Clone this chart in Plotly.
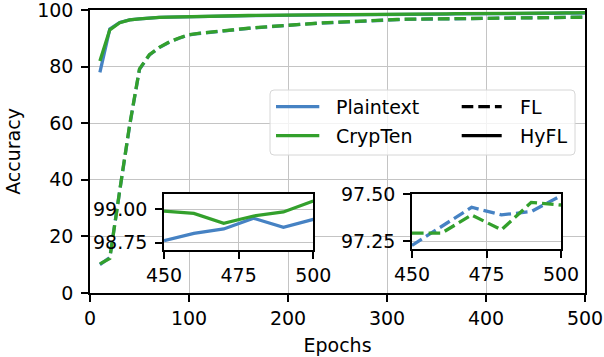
import plotly.graph_objects as go

# ---------------- data ----------------
epochs = list(range(10, 501, 10))

hyfl_plaintext = [78.0, 93.3, 95.6, 96.5, 96.9, 97.2, 97.4, 97.5, 97.6, 97.7,
                  97.75, 97.8, 97.85, 97.9, 97.95, 98.0, 98.0, 98.05, 98.1, 98.1,
                  98.15, 98.2, 98.2, 98.25, 98.3, 98.3, 98.35, 98.35, 98.4, 98.4,
                  98.45, 98.45, 98.5, 98.5, 98.55, 98.55, 98.6, 98.6, 98.62, 98.65,
                  98.67, 98.7, 98.72, 98.74, 98.765, 98.82, 98.853, 98.933, 98.865, 98.925]

hyfl_crypten = [82.0, 93.0, 95.5, 96.5, 96.9, 97.2, 97.4, 97.5, 97.6, 97.7,
                97.8, 97.85, 97.9, 97.95, 98.0, 98.05, 98.1, 98.1, 98.15, 98.2,
                98.2, 98.25, 98.3, 98.3, 98.35, 98.4, 98.4, 98.45, 98.5, 98.5,
                98.55, 98.55, 98.6, 98.6, 98.65, 98.65, 98.7, 98.7, 98.75, 98.75,
                98.8, 98.8, 98.85, 98.9, 98.987, 98.97, 98.895, 98.95, 98.98, 99.062]

fl_plaintext = [10.0, 12.5, 36.0, 59.0, 79.0, 84.1, 86.7, 88.6, 90.0, 91.2,
                91.7, 92.1, 92.5, 92.9, 93.2, 93.5, 93.8, 94.1, 94.4, 94.7,
                94.9, 95.1, 95.3, 95.5, 95.7, 95.85, 96.0, 96.2, 96.4, 96.55,
                96.6, 96.7, 96.75, 96.8, 96.85, 96.9, 96.95, 97.0, 97.05, 97.1,
                97.12, 97.15, 97.18, 97.2, 97.227, 97.328, 97.431, 97.39, 97.408, 97.493]

fl_crypten = [10.3, 12.2, 36.2, 59.3, 79.2, 84.2, 86.8, 88.7, 90.1, 91.25,
              91.75, 92.15, 92.55, 92.95, 93.25, 93.55, 93.85, 94.15, 94.45, 94.75,
              94.95, 95.15, 95.35, 95.55, 95.75, 95.9, 96.05, 96.25, 96.45, 96.6,
              96.65, 96.75, 96.8, 96.85, 96.9, 96.95, 97.0, 97.05, 97.1, 97.15,
              97.18, 97.2, 97.23, 97.26, 97.293, 97.293, 97.39, 97.31, 97.457, 97.443]

x_ticks = [0, 100, 200, 300, 400, 500]
y_ticks = [0, 20, 40, 60, 80, 100]
inset_x_ticks = [450, 475, 500]
inset1_y_ticks = [98.75, 99.00]
inset2_y_ticks = [97.25, 97.50]

series_names = ["Plaintext", "CrypTen"]
mode_names = ["FL", "HyFL"]

# ---------------- styling ----------------
BLUE = "#4682c3"
GREEN = "#33a02c"
FONT = "DejaVu Sans"
FS = 19
GRID = "#c4c4c4"
LW = 3.3
DASH = "11.6px,5px"

W, H = 604, 357
ML, MR, MT, MB = 90, 19, 10, 64
PW, PH = W - ML - MR, H - MT - MB


def px_x(p):
    return (p - ML) / PW


def px_y(p):
    return (H - MB - p) / PH


fig = go.Figure()

# main traces
for ys, col in [(fl_plaintext, BLUE), (fl_crypten, GREEN)]:
    fig.add_trace(go.Scatter(x=epochs, y=ys, mode="lines",
                             line=dict(color=col, width=LW, dash=DASH),
                             showlegend=False, xaxis="x", yaxis="y"))
for ys, col in [(hyfl_plaintext, BLUE), (hyfl_crypten, GREEN)]:
    fig.add_trace(go.Scatter(x=epochs, y=ys, mode="lines",
                             line=dict(color=col, width=LW),
                             showlegend=False, xaxis="x", yaxis="y"))

# insets (last 6 points)
idx = [i for i, e in enumerate(epochs) if e >= 450]
ins_x = [epochs[i] for i in idx]
for ys, col in [(hyfl_plaintext, BLUE), (hyfl_crypten, GREEN)]:
    fig.add_trace(go.Scatter(x=ins_x, y=[ys[i] for i in idx], mode="lines",
                             line=dict(color=col, width=LW),
                             showlegend=False, xaxis="x2", yaxis="y2"))
for ys, col in [(fl_plaintext, BLUE), (fl_crypten, GREEN)]:
    fig.add_trace(go.Scatter(x=ins_x, y=[ys[i] for i in idx], mode="lines",
                             line=dict(color=col, width=LW, dash=DASH),
                             showlegend=False, xaxis="x3", yaxis="y3"))

axis_common = dict(showline=True, linecolor="black", linewidth=1.6, mirror=True,
                   ticks="outside", ticklen=7, tickwidth=1.6, tickcolor="black",
                   showgrid=True, gridcolor=GRID, gridwidth=1.3, zeroline=False,
                   automargin=False, ticklabeloverflow="allow",
                   tickfont=dict(family=FONT, size=FS, color="black"))
yextra = dict(ticklabelstandoff=4)

fig.update_layout(
    width=W, height=H,
    margin=dict(l=ML, r=MR, t=MT, b=MB),
    paper_bgcolor="white", plot_bgcolor="white",
    font=dict(family=FONT, size=FS, color="black"),
    showlegend=False,
    xaxis=dict(domain=[0, 1], range=[0, 500], tickvals=x_ticks, anchor="y",
               title=dict(text="Epochs", font=dict(family=FONT, size=FS), standoff=11),
               **axis_common),
    yaxis=dict(domain=[0, 1], range=[0, 100], tickvals=y_ticks, anchor="x",
               title=dict(text="Accuracy", font=dict(family=FONT, size=FS), standoff=11),
               **axis_common, **yextra),
    xaxis2=dict(domain=[px_x(164), px_x(313.3)], range=[450, 500], tickvals=inset_x_ticks,
                anchor="y2", **axis_common),
    yaxis2=dict(domain=[px_y(250), px_y(194)], range=[98.695, 99.115], tickvals=inset1_y_ticks,
                tickformat=".2f", anchor="x2", **axis_common, **yextra),
    xaxis3=dict(domain=[px_x(412), px_x(561)], range=[450, 500], tickvals=inset_x_ticks,
                anchor="y3", **axis_common),
    yaxis3=dict(domain=[px_y(249.3), px_y(194)], range=[97.206, 97.502], tickvals=inset2_y_ticks,
                tickformat=".2f", anchor="x3", **axis_common, **yextra),
)

# ---------------- manual legend ----------------
x0, x1 = px_x(270), px_x(575)
y0, y1 = px_y(155), px_y(90)
rx, ry = 4 / PW, 4 / PH
path = (f"M {x0+rx},{y0} L {x1-rx},{y0} Q {x1},{y0} {x1},{y0+ry} "
        f"L {x1},{y1-ry} Q {x1},{y1} {x1-rx},{y1} L {x0+rx},{y1} "
        f"Q {x0},{y1} {x0},{y1-ry} L {x0},{y0+ry} Q {x0},{y0} {x0+rx},{y0} Z")
fig.add_shape(type="path", path=path, xref="paper", yref="paper",
              fillcolor="rgba(255,255,255,0.8)", line=dict(color="#d6d6d6", width=1),
              layer="above")

row_y = [px_y(106.7), px_y(135.7)]
legend_entries = [
    (series_names[0], BLUE, "solid", 276, 319.3, 334, row_y[0]),
    (series_names[1], GREEN, "solid", 276, 319.3, 334, row_y[1]),
    (mode_names[0], "black", DASH, 461.7, 501.7, 518, row_y[0]),
    (mode_names[1], "black", "solid", 461.7, 501.7, 518, row_y[1]),
]
for name, col, dash, lx0, lx1, tx, yy in legend_entries:
    fig.add_shape(type="line", xref="paper", yref="paper",
                  x0=px_x(lx0), x1=px_x(lx1), y0=yy, y1=yy,
                  line=dict(color=col, width=LW, dash=dash), layer="above")
    fig.add_annotation(text=name, xref="paper", yref="paper", x=px_x(tx), y=yy,
                       xanchor="left", yanchor="middle", showarrow=False,
                       font=dict(family=FONT, size=FS, color="black"))

fig.write_html("out.html")
